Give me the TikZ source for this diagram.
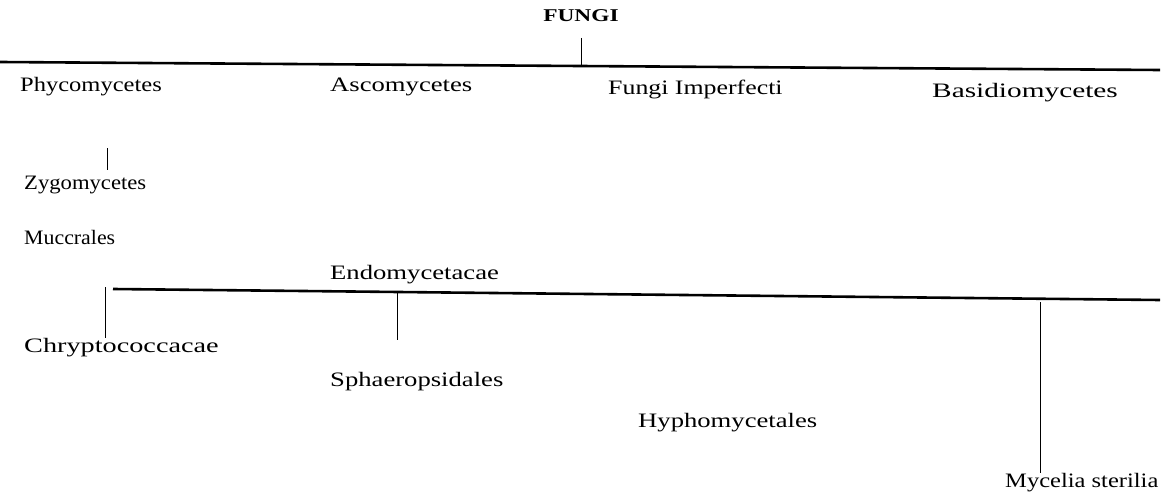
\documentclass[tikz,border=0pt]{standalone}
\usepackage{fontspec}
\setmainfont{Liberation Serif}[FakeStretch=1.30]
\newcommand{\squeeze}[2]{\scalebox{#1}[1]{#2}}

\begin{document}
\begin{tikzpicture}[x=1pt,y=-1pt]
  \tikzset{taxon/.style={anchor=base west, inner sep=0pt, font=\fontsize{20.5}{24}\selectfont},
           bar/.style={line width=2.6pt},
           stem/.style={line width=0.7pt}}
  \useasboundingbox (0,0) rectangle (1165,495);

  % top of the tree
  \node[anchor=base, inner sep=0pt, font=\fontsize{18}{21}\selectfont\bfseries] (fungi) at (581,22) {FUNGI};
  \coordinate (top west) at (0,62);
  \coordinate (top east) at (1160,70);
  \coordinate (top mid) at (581,65);
  \coordinate (fungi tick) at (581,38);
  \draw[bar] (top west) -- (top east);
  \draw[stem] (fungi tick) -- (top mid);

  % classes
  \node[taxon] (phyco) at (20,92) {\squeeze{0.92}{Phycomycetes}};
  \node[taxon] (asco) at (330,92) {Ascomycetes};
  \node[taxon] (imperf) at (608,95) {\squeeze{0.97}{Fungi Imperfecti}};
  \node[taxon] (basidio) at (932,97) {\squeeze{1.1}{Basidiomycetes}};

  % orders and families
  \node[taxon] (zygo) at (24,189) {\squeeze{0.85}{Zygomycetes}};
  \node[taxon] (mucor) at (24,244) {\squeeze{0.82}{Muccrales}};
  \node[taxon] (endo) at (330,279) {Endomycetacae};
  \coordinate (zygo top) at (107,148);
  \coordinate (zygo bottom) at (107,170);
  \draw[stem] (zygo top) -- (zygo bottom);

  % lower branch
  \coordinate (low west) at (113,289);
  \coordinate (low east) at (1160,300);
  \draw[bar] (low west) -- (low east);

  \node[taxon] (crypto) at (24,352) {\squeeze{1.06}{Chryptococcacae}};
  \node[taxon] (sphaero) at (330,386) {Sphaeropsidales};
  \node[taxon] (hypho) at (638,427) {Hyphomycetales};
  \node[taxon] (mycel) at (1005,487) {\squeeze{0.92}{Mycelia sterilia}};

  \coordinate (crypto top) at (105,287);
  \coordinate (sphaero top) at (397,291);
  \coordinate (mycel top) at (1040,302);
  \draw[stem] (crypto top) -- (crypto top |- crypto.north);
  \draw[stem] (sphaero top) -- (397,340);
  \draw[stem] (mycel top) -- (mycel top |- mycel.north);
\end{tikzpicture}
\end{document}
